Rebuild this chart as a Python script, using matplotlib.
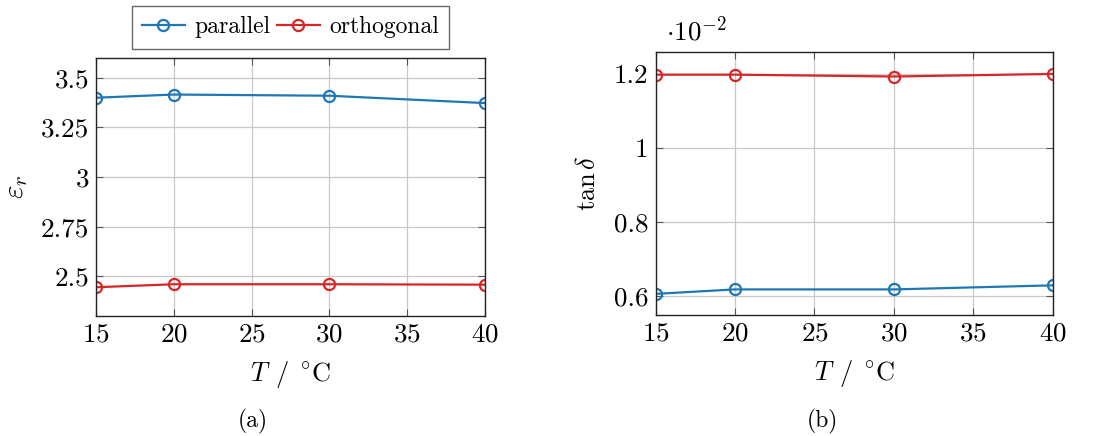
import matplotlib
matplotlib.use("Agg")
import matplotlib.pyplot as plt
from matplotlib.ticker import FuncFormatter, MultipleLocator

plt.rcParams['font.family'] = ['cmr10', 'DejaVu Serif']
plt.rcParams['mathtext.fontset'] = 'cm'
plt.rcParams['axes.formatter.use_mathtext'] = True
plt.rcParams['axes.unicode_minus'] = False

# data
temps = [15, 20, 30, 40]
eps_parallel = [3.400, 3.416, 3.410, 3.373]
eps_orthogonal = [2.445, 2.460, 2.460, 2.458]
# tan delta in units of 1e-2
tan_parallel = [0.607, 0.619, 0.619, 0.630]
tan_orthogonal = [1.198, 1.198, 1.193, 1.200]

series_names = ['parallel', 'orthogonal']
x_ticks = [15, 20, 25, 30, 35, 40]

blue = '#1f77b4'
red = '#d62728'
fs_tick = 19.5
fs_lab = 19
fs_leg = 17

fig = plt.figure(figsize=(11, 4.36), dpi=100)
ax1 = fig.add_axes([0.0873, 0.2752, 0.3536, 0.5917])
ax2 = fig.add_axes([0.596, 0.2775, 0.361, 0.604])

fmt = FuncFormatter(lambda v, p: '%g' % round(v, 4))


def style(ax):
    ax.set_xlim(15, 40)
    ax.set_xticks(x_ticks)
    ax.grid(True, color='#c8c8c8', lw=0.9)
    ax.set_axisbelow(True)
    ax.tick_params(direction='in', top=True, right=True, labelsize=fs_tick,
                   length=5, width=0.8, color='#555555', pad=5)
    ax.yaxis.set_major_formatter(fmt)
    for s in ax.spines.values():
        s.set_linewidth(1.0)
        s.set_color('#222222')
    ax.set_xlabel(r'$T\;\,/\;\,^{\circ}\mathrm{C}$', fontsize=fs_lab, labelpad=9)


line_kw = dict(marker='o', markersize=8, markerfacecolor='none',
               markeredgewidth=1.6, lw=1.6)

ax1.plot(temps, eps_parallel, color=blue, label=series_names[0], **line_kw)
ax1.plot(temps, eps_orthogonal, color=red, label=series_names[1], **line_kw)
ax1.set_ylim(2.3, 3.6)
ax1.yaxis.set_major_locator(MultipleLocator(0.25))
style(ax1)
ax1.set_ylabel(r'$\varepsilon_r$', fontsize=fs_lab + 2, labelpad=8)

ax2.plot(temps, tan_parallel, color=blue, **line_kw)
ax2.plot(temps, tan_orthogonal, color=red, **line_kw)
ax2.set_ylim(0.55, 1.26)
ax2.yaxis.set_major_locator(MultipleLocator(0.2))
style(ax2)
ax2.set_ylabel(r'$\tan\delta$', fontsize=fs_lab, labelpad=10)
ax2.text(0.025, 1.025, r'$\cdot 10^{-2}$', transform=ax2.transAxes,
         fontsize=fs_tick, ha='left', va='bottom')

leg = ax1.legend(loc='lower center', bbox_to_anchor=(0.5, 1.035), ncol=2,
                 fontsize=fs_leg, frameon=True, fancybox=False, edgecolor='#444444',
                 handlelength=1.8, handletextpad=0.4, columnspacing=0.3,
                 borderpad=0.45, borderaxespad=0.0)
leg.get_frame().set_linewidth(1.0)

fig.text(253 / 1100, 1 - 421 / 436, '(a)', fontsize=fs_leg, ha='center', va='center')
fig.text(822 / 1100, 1 - 421 / 436, '(b)', fontsize=fs_leg, ha='center', va='center')

fig.savefig('out.png', dpi=100)
